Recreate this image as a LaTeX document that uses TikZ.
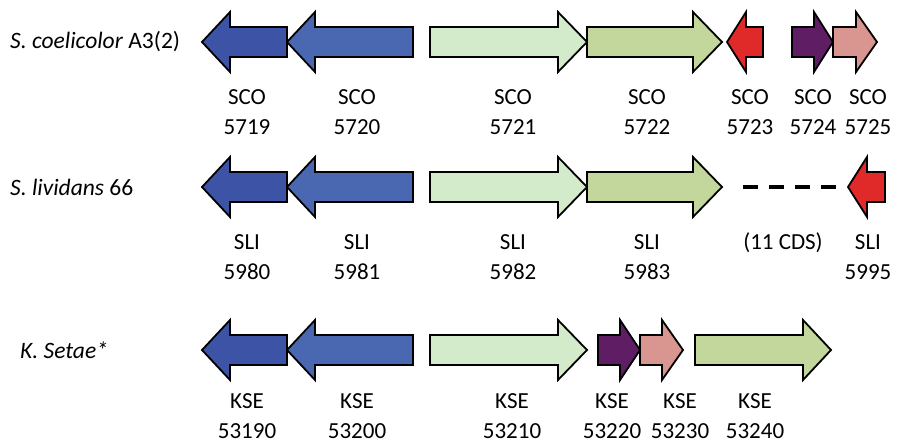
\documentclass[tikz,border=0pt]{standalone}
\usepackage{fontspec}
\setmainfont{Carlito}
\definecolor{bluedark}{HTML}{3D53A5}
\definecolor{bluemid}{HTML}{4A68B1}
\definecolor{greenlight}{HTML}{D4EBCB}
\definecolor{greenmid}{HTML}{C3D69B}
\definecolor{redgene}{HTML}{E02A2A}
\definecolor{purplegene}{HTML}{5F1E63}
\definecolor{pinkgene}{HTML}{D9958F}
\tikzset{
  gene/.style={draw=black, line width=1.8pt, line join=miter},
  genelabel/.style={align=center, font=\fontsize{23}{30}\selectfont, inner sep=0pt},
  orgname/.style={anchor=west, font=\fontsize{23.5}{28}\selectfont, inner sep=0pt},
}
% right-pointing: left, headbase, tip, ycenter, colour
\newcommand{\geneRight}[5]{%
  \filldraw[gene, fill=#5] (#1,#4-15) -- (#2,#4-15) -- (#2,#4-30) -- (#3,#4) -- (#2,#4+30) -- (#2,#4+15) -- (#1,#4+15) -- cycle;}
% left-pointing: tip, headbase, right, ycenter, colour
\newcommand{\geneLeft}[5]{%
  \filldraw[gene, fill=#5] (#3,#4-15) -- (#2,#4-15) -- (#2,#4-30) -- (#1,#4) -- (#2,#4+30) -- (#2,#4+15) -- (#3,#4+15) -- cycle;}
\begin{document}
\begin{tikzpicture}[x=1pt, y=-1pt]
\useasboundingbox (0,0) rectangle (899,443);
% ---------- Row 1 ----------
\node[orgname] (org1) at (10,42) {\textit{S. coelicolor} A3(2)};
\geneLeft{202}{230}{287}{42}{bluedark}
\geneLeft{287}{315}{413}{42}{bluemid}
\geneRight{430}{558}{587}{42}{greenlight}
\geneRight{587}{693}{722}{42}{greenmid}
\geneLeft{727}{746}{763}{42}{redgene}
\geneRight{792}{814}{833}{42}{purplegene}
\geneRight{833}{856}{877}{42}{pinkgene}
\node[genelabel] (sco5719) at (247,112) {SCO\\5719};
\node[genelabel] (sco5720) at (357,112) {SCO\\5720};
\node[genelabel] (sco5721) at (513,112) {SCO\\5721};
\node[genelabel] (sco5722) at (647,112) {SCO\\5722};
\node[genelabel] (sco5723) at (750,112) {SCO\\5723};
\node[genelabel] (sco5724) at (813,112) {SCO\\5724};
\node[genelabel] (sco5725) at (868,112) {SCO\\5725};
% ---------- Row 2 ----------
\node[orgname] (org2) at (10,187) {\textit{S. lividans} 66};
\geneLeft{202}{230}{287}{187}{bluedark}
\geneLeft{287}{315}{413}{187}{bluemid}
\geneRight{430}{558}{587}{187}{greenlight}
\geneRight{587}{693}{722}{187}{greenmid}
\geneLeft{848}{867}{885}{187}{redgene}
\coordinate (gapL) at (743,187);
\coordinate (gapR) at (836,187);
\draw[line width=4.5pt, dash pattern=on 15pt off 11pt] (gapL) -- (gapR);
\node[genelabel] (sli5980) at (247,257) {SLI\\5980};
\node[genelabel] (sli5981) at (357,257) {SLI\\5981};
\node[genelabel] (sli5982) at (513,257) {SLI\\5982};
\node[genelabel] (sli5983) at (647,257) {SLI\\5983};
\node[genelabel, anchor=base] (cds) at (783,250) {(11 CDS)};
\node[genelabel] (sli5995) at (868,257) {SLI\\5995};
% ---------- Row 3 ----------
\node[orgname] (org3) at (20,350) {\textit{K. Setae*}};
\geneLeft{202}{230}{287}{350}{bluedark}
\geneLeft{287}{315}{413}{350}{bluemid}
\geneRight{430}{558}{587}{350}{greenlight}
\geneRight{598}{620}{640}{350}{purplegene}
\geneRight{640}{662}{683}{350}{pinkgene}
\geneRight{695}{803}{831}{350}{greenmid}
\node[genelabel] (kse53190) at (247,416) {KSE\\53190};
\node[genelabel] (kse53200) at (357,416) {KSE\\53200};
\node[genelabel] (kse53210) at (512,416) {KSE\\53210};
\node[genelabel] (kse53220) at (612,416) {KSE\\53220};
\node[genelabel] (kse53230) at (680,416) {KSE\\53230};
\node[genelabel] (kse53240) at (755,416) {KSE\\53240};
\end{tikzpicture}
\end{document}
